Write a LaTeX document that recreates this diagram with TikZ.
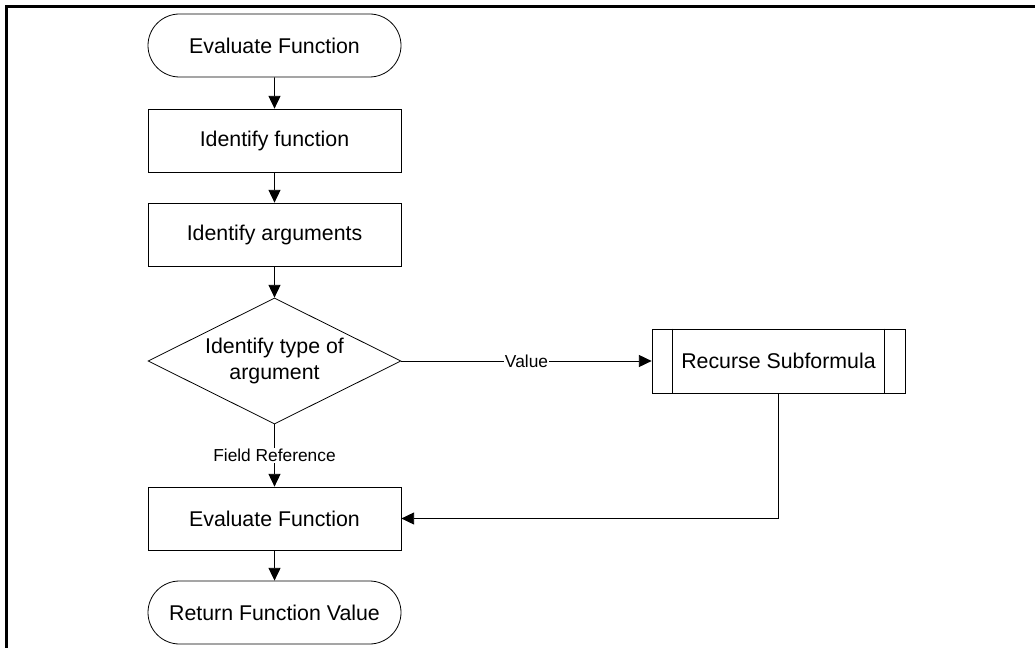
\documentclass[tikz,border=0pt]{standalone}
\usepackage{fontspec}
\setmainfont{Liberation Sans}
\usetikzlibrary{shapes.geometric,shapes.misc,arrows.meta}

\begin{document}
\begin{tikzpicture}[x=0.75pt,y=0.75pt,yscale=-1,xscale=1,
  every node/.style={font=\fontsize{16}{20}\selectfont},
  term/.style={draw,rounded rectangle,line width=0.6pt,minimum width=189.75pt,minimum height=47.25pt,inner sep=0pt},
  procbox/.style={draw,rectangle,line width=0.6pt,minimum width=189.75pt,minimum height=47.25pt,inner sep=0pt},
  decide/.style={draw,diamond,aspect=2,line width=0.6pt,minimum width=189.75pt,minimum height=94.5pt,inner sep=0pt,align=center},
  lbl/.style={fill=white,inner sep=1pt,font=\fontsize{13}{15}\selectfont},
  flow/.style={line width=0.6pt,-{Triangle[width=9pt,length=9.5pt]}}]
\useasboundingbox (0,0) rectangle (1035,648);

%Frame: top and left edges
\draw [line width=1.7pt] (1035,6.5) -- (6.5,6.5) -- (6.5,648);

%Shape: Terminator
\node [term] (start) at (274.5,45.5) {Evaluate Function};
%Shape: Process
\node [procbox] (idfun) at (274.5,140.5) {Identify function};
%Shape: Process
\node [procbox] (idarg) at (274.5,234.5) {Identify arguments};
%Shape: Decision
\node [decide] (argtype) at (274.5,361) {Identify type of\\argument};
%Shape: Predefined process
\node [procbox,minimum height=48pt] (recurse) at (778.5,361) {Recurse Subformula};
\draw [line width=0.6pt] ([xshift=15.75pt]recurse.north west) -- ([xshift=15.75pt]recurse.south west);
\draw [line width=0.6pt] ([xshift=-15.75pt]recurse.north east) -- ([xshift=-15.75pt]recurse.south east);
%Shape: Process
\node [procbox] (evalf) at (274.5,518.5) {Evaluate Function};
%Shape: Terminator
\node [term] (ret) at (274.5,612.5) {Return Function Value};

% Connectors
\draw [flow] (start) -- (idfun);
\draw [flow] (idfun) -- (idarg);
\draw [flow] (idarg) -- (argtype);
\draw [flow] (argtype) -- node [lbl] {Value} (recurse);
\draw [flow] (argtype) -- node [lbl] {Field Reference} (evalf);
\draw [flow] (recurse.south) |- (evalf.east);
\draw [flow] (evalf) -- (ret);

\end{tikzpicture}
\end{document}
